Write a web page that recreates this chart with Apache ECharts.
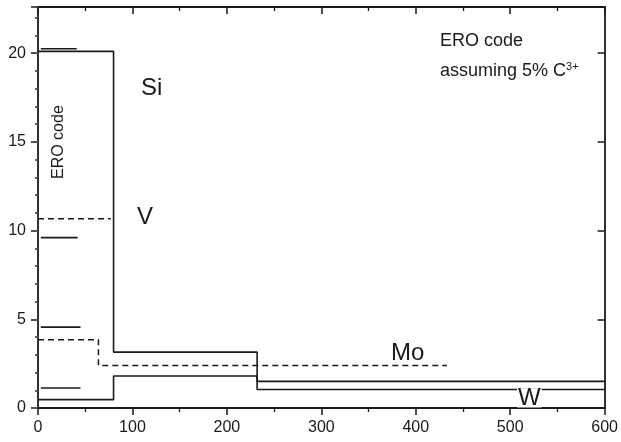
<!DOCTYPE html>
<html>
<head>
<meta charset="utf-8">
<script src="https://cdn.jsdelivr.net/npm/echarts@6/dist/echarts.min.js"></script>
<style>html,body{margin:0;padding:0;background:#fff;}#c{width:621px;height:442px;}</style>
</head>
<body>
<div id="c"></div>
<script>
// Data (x, y breakpoints of step lines; step holds value until next x)
const xTicks = [0, 100, 200, 300, 400, 500, 600];
const yTicks = [0, 5, 10, 15, 20];
const upperStepX = [0, 80, 232, 600];
const upperStepY = [20.1, 3.15, 1.04, 1.04];
const lowerStepX = [0, 80, 232, 600];
const lowerStepY = [0.47, 1.8, 1.5, 1.5];
const dashMoX = [0, 64, 433];
const dashMoY = [3.85, 2.4, 2.4];
const dashVX = [0, 77];
const dashVY = [10.67, 10.67];
const shortSegStart = [3, 3, 3, 3];
const shortSegEnd = [41, 42, 45, 45];
const shortSegY = [20.25, 9.6, 4.56, 1.13];
const labelNames = ['Si', 'V', 'Mo', 'W'];

const YMAX = 22.6;
const ink = '#1a1a1a';

function pts(xs, ys) { return xs.map((x, i) => [x, ys[i]]); }

const series = [
  { type: 'line', step: 'end', data: pts(upperStepX, upperStepY), symbol: 'none',
    lineStyle: { color: ink, width: 1.6 } },
  { type: 'line', step: 'end', data: pts(lowerStepX, lowerStepY), symbol: 'none',
    lineStyle: { color: ink, width: 1.6 } },
  { type: 'line', step: 'end', data: pts(dashMoX, dashMoY), symbol: 'none',
    lineStyle: { color: ink, width: 1.5, type: [6, 4] } },
  { type: 'line', data: pts(dashVX, dashVY), symbol: 'none',
    lineStyle: { color: ink, width: 1.5, type: [6, 4] } }
];
shortSegY.forEach((y, i) => {
  series.push({ type: 'line', data: [[shortSegStart[i], y], [shortSegEnd[i], y]], symbol: 'none',
    lineStyle: { color: ink, width: 1.6 } });
});
series.forEach(s => { s.silent = true; s.animation = false; s.z = 3; });

const axisLine = { show: true, onZero: false, lineStyle: { color: ink, width: 1.8 } };
const font = 'Liberation Sans, Arial, sans-serif';

const chart = echarts.init(document.getElementById('c'), null, { renderer: 'canvas' });
chart.setOption({
  animation: false,
  backgroundColor: '#fff',
  grid: { left: 38, right: 11, top: 7, bottom: 34, containLabel: false },
  xAxis: [
    { type: 'value', position: 'bottom', min: 0, max: 600, interval: 100,
      axisLine: axisLine,
      axisTick: { show: true, length: 7, lineStyle: { color: ink, width: 1.5 } },
      minorTick: { show: true, splitNumber: 2, length: 4, lineStyle: { color: ink, width: 1.3 } },
      splitLine: { show: false },
      axisLabel: { show: true, color: ink, fontSize: 16, fontFamily: font, margin: 12,
        formatter: v => xTicks.includes(v) ? String(v) : '' } },
    { type: 'value', position: 'top', min: 0, max: 600, interval: 100,
      axisLine: axisLine,
      axisTick: { show: true, inside: true, length: 7, lineStyle: { color: ink, width: 1.5 } },
      minorTick: { show: true, splitNumber: 2, length: 4, lineStyle: { color: ink, width: 1.3 } },
      splitLine: { show: false }, axisLabel: { show: false } }
  ],
  yAxis: [
    { type: 'value', position: 'left', min: 0, max: YMAX, interval: 5,
      axisLine: axisLine,
      axisTick: { show: true, length: 7, lineStyle: { color: ink, width: 1.5 } },
      splitLine: { show: false },
      axisLabel: { show: true, color: ink, fontSize: 16, fontFamily: font, margin: 12,
        formatter: v => yTicks.includes(v) ? String(v) : '' } },
    { type: 'value', position: 'left', min: 0, max: YMAX, interval: 1,
      axisLine: { show: false },
      axisTick: { show: true, length: 3, lineStyle: { color: '#555', width: 1.5 } },
      splitLine: { show: false }, axisLabel: { show: false } },
    { type: 'value', position: 'right', min: 0, max: YMAX, interval: 5,
      axisLine: axisLine,
      axisTick: { show: true, inside: true, length: 7, lineStyle: { color: ink, width: 1.5 } },
      splitLine: { show: false }, axisLabel: { show: false } },
    { type: 'value', position: 'right', min: 0, max: YMAX, interval: 1,
      axisLine: { show: false },
      axisTick: { show: true, inside: true, length: 3, lineStyle: { color: '#555', width: 1.5 } },
      splitLine: { show: false }, axisLabel: { show: false } }
  ],
  series: series,
  graphic: [
    { type: 'text', left: 141, top: 76, z: 10,
      style: { text: labelNames[0], fontSize: 24, fontFamily: font, fill: ink } },
    { type: 'text', left: 137, top: 205, z: 10,
      style: { text: labelNames[1], fontSize: 24, fontFamily: font, fill: ink } },
    { type: 'text', left: 391, top: 341, z: 10,
      style: { text: labelNames[2], fontSize: 24, fontFamily: font, fill: ink } },
    { type: 'text', left: 517, top: 386, z: 10,
      style: { text: labelNames[3], fontSize: 24, lineHeight: 19, fontFamily: font, fill: ink,
        backgroundColor: '#fff', padding: [0, 1, 0, 1] } },
    { type: 'text', left: 440, top: 32, z: 10,
      style: { text: 'ERO code', fontSize: 18, fontFamily: font, fill: ink } },
    { type: 'text', left: 440, top: 61, z: 10,
      style: { text: 'assuming 5% C{s|3+}', fontSize: 18, fontFamily: font, fill: ink,
        rich: { s: { fontSize: 11, fontFamily: font, fill: ink, verticalAlign: 'top', padding: [0, 0, 9, 0] } } } },
    { type: 'text', x: 51, y: 179, rotation: Math.PI / 2, z: 10,
      style: { text: 'ERO code', fontSize: 16, fontFamily: font, fill: ink, verticalAlign: 'top', align: 'left' } }
  ]
});
</script>
</body>
</html>
